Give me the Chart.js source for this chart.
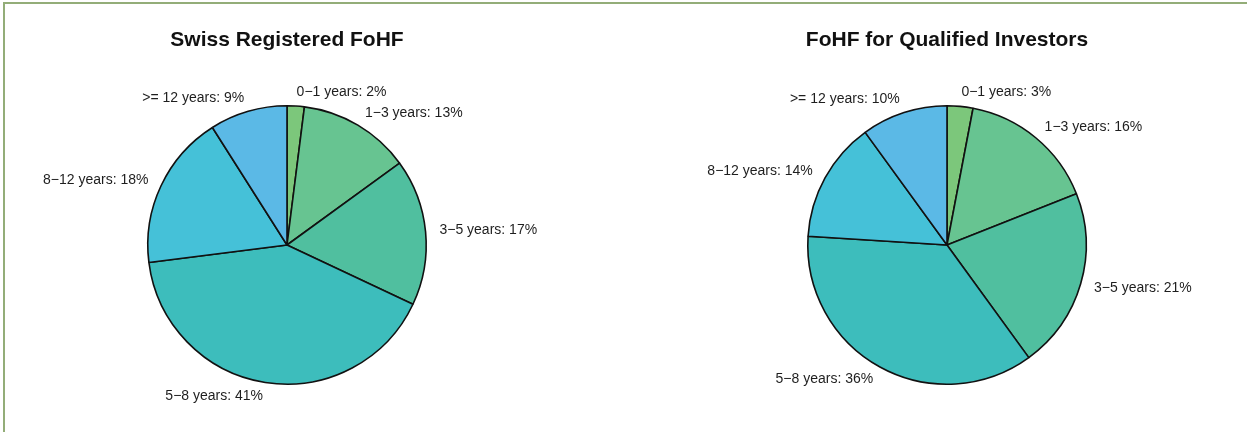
<!DOCTYPE html>
<html>
<head>
<meta charset="utf-8">
<script src="https://cdn.jsdelivr.net/npm/chart.js@4.4.0/dist/chart.umd.min.js"></script>
<style>
  html, body { margin: 0; padding: 0; background: #fff; overflow: hidden; }
  body { width: 1247px; height: 432px; position: relative; }
  #frame { position: absolute; left: 3px; top: 2px; width: 1270px; height: 460px; border: 2.5px solid #93ad78; box-sizing: border-box; }
  .box { position: absolute; top: 0; height: 432px; }
  #left { left: 0; width: 574px; }
  #right { left: 647px; width: 600px; }
</style>
</head>
<body>
<div id="frame"></div>
<div class="box" id="left"><canvas id="pieSwiss"></canvas></div>
<div class="box" id="right"><canvas id="pieQualified"></canvas></div>
<script>
// categories (clockwise from the top)
const categorias = ['0\u22121 years', '1\u22123 years', '3\u22125 years', '5\u22128 years', '8\u221212 years', '>= 12 years'];
// shares in percent
const swissRegistered = [2, 13, 17, 41, 18, 9];
const qualifiedInvestors = [3, 16, 21, 36, 14, 10];
const cores = ['#7cc77b', '#67c491', '#50bf9f', '#3dbdbc', '#45c1d8', '#5bb9e6'];

// R style pie labels: at 1.1 x radius, aligned away from the centre
const rotulosPizza = {
  id: 'rotulosPizza',
  afterDatasetsDraw(chart) {
    const ctx = chart.ctx;
    const meta = chart.getDatasetMeta(0);
    const valores = chart.data.datasets[0].data;
    ctx.save();
    ctx.font = '14px "Liberation Sans", Arial, sans-serif';
    ctx.fillStyle = '#1e1e1e';
    ctx.textBaseline = 'middle';
    meta.data.forEach((arc, i) => {
      const p = arc.getProps(['x', 'y', 'startAngle', 'endAngle', 'outerRadius'], true);
      const meio = (p.startAngle + p.endAngle) / 2;
      const lx = p.x + Math.cos(meio) * p.outerRadius * 1.1;
      const ly = p.y + Math.sin(meio) * p.outerRadius * 1.1;
      ctx.textAlign = Math.cos(meio) >= 0 ? 'left' : 'right';
      ctx.fillText(chart.data.labels[i] + ': ' + valores[i] + '%', lx, ly);
    });
    ctx.restore();
  }
};

function criarPizza(id, titulo, valores) {
  const ctx = document.getElementById(id).getContext('2d');
  return new Chart(ctx, {
    type: 'pie',
    data: {
      labels: categorias,
      datasets: [{
        data: valores,
        backgroundColor: cores,
        borderColor: '#111',
        borderWidth: 1.6
      }]
    },
    options: {
      responsive: true,
      maintainAspectRatio: false,
      animation: false,
      layout: { padding: { top: 0, bottom: 47, left: 0, right: 0 } },
      plugins: {
        legend: { display: false },
        tooltip: { enabled: false },
        title: {
          display: true,
          text: titulo,
          color: '#111',
          font: { family: '"Liberation Sans", Arial, sans-serif', size: 21, weight: 'bold', lineHeight: 1.2 },
          padding: { top: 28, bottom: 51.8 }
        }
      }
    },
    plugins: [rotulosPizza]
  });
}

window.addEventListener('load', () => {
  criarPizza('pieSwiss', 'Swiss Registered FoHF', swissRegistered);
  criarPizza('pieQualified', 'FoHF for Qualified Investors', qualifiedInvestors);
});
</script>
</body>
</html>
